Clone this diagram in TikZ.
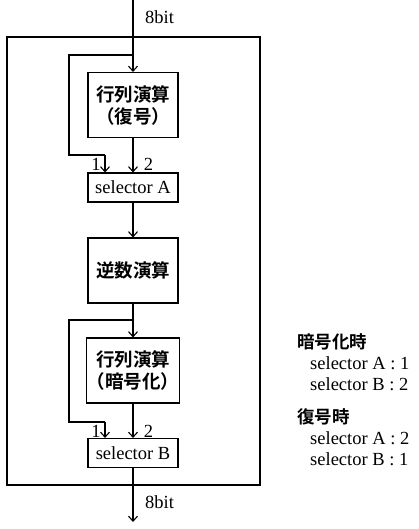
\documentclass[tikz,border=0pt]{standalone}
\usepackage{fontspec}
\setmainfont{Liberation Serif}
\newfontfamily\cjk{Noto Sans CJK JP}[BoldFont=* Bold]
\usetikzlibrary{arrows.meta}
\tikzset{
  blk/.style={draw, line width=1.1pt, minimum width=90pt, inner sep=0pt, align=center},
  bigblk/.style={blk, minimum height=65pt, font=\cjk\bfseries\fontsize{18.5}{22}\selectfont},
  selblk/.style={blk, minimum height=29pt, font=\fontsize{18.5}{20}\selectfont},
  wire/.style={line width=1.1pt},
  arr/.style={wire, -{Straight Barb[length=5pt,width=9pt,line width=1.1pt]}},
  lbl/.style={inner sep=0pt, font=\fontsize{18.5}{20}\selectfont},
  leghead/.style={inner sep=0pt, anchor=west, font=\cjk\bfseries\fontsize{17.5}{19}\selectfont},
  legtxt/.style={inner sep=0pt, anchor=west, font=\fontsize{18.5}{20}\selectfont}
}
\begin{document}
\begin{tikzpicture}[x=1pt,y=-1pt]
\useasboundingbox (0,0) rectangle (419,529);
% outer frame
\draw[line width=1.6pt] (7,37) rectangle (260,485);
% blocks
\node[bigblk] (m1) at (133,105) {行列演算\\（復号）};
\node[selblk] (sa) at (133,187.5) {selector A};
\node[bigblk] (inv) at (133,270.5) {逆数演算};
\node[bigblk] (m2) at (133,370.5) {行列演算\\（暗号化）};
\node[selblk] (sb) at (133,453) {selector B};
% coordinates
\coordinate (in) at (133,0);
\coordinate (j1) at (133,55);
\coordinate (l1a) at (69,55);
\coordinate (l1b) at (69,155);
\coordinate (l1c) at (105,155);
\coordinate (j2) at (133,320);
\coordinate (l2a) at (69,320);
\coordinate (l2b) at (69,422);
\coordinate (l2c) at (105,422);
\coordinate (out) at (133,522);
% connectors
\draw[arr] (in) -- (m1.north);
\draw[wire] (j1) -- (l1a) -- (l1b) -- (l1c);
\draw[arr] (l1c) -- (l1c |- sa.north);
\draw[arr] (m1.south) -- (sa.north);
\draw[arr] (sa.south) -- (inv.north);
\draw[arr] (inv.south) -- (m2.north);
\draw[wire] (j2) -- (l2a) -- (l2b) -- (l2c);
\draw[arr] (l2c) -- (l2c |- sb.north);
\draw[arr] (m2.south) -- (sb.north);
\draw[arr] (sb.south) -- (out);
% labels
\node[lbl, anchor=west] (t8a) at (145,17) {8bit};
\node[lbl, anchor=west] (t8b) at (145,502) {8bit};
\node[lbl] (a1) at (96,164) {1};
\node[lbl] (a2) at (148.5,164) {2};
\node[lbl] (b1) at (96,431) {1};
\node[lbl] (b2) at (148.5,431) {2};
% legend
\node[leghead] (h1) at (297,342) {暗号化時};
\node[legtxt] (h1a) at (310,363) {selector A : 1};
\node[legtxt] (h1b) at (310,384) {selector B : 2};
\node[leghead] (h2) at (297,417) {復号時};
\node[legtxt] (h2a) at (310,438) {selector A : 2};
\node[legtxt] (h2b) at (310,459) {selector B : 1};
\end{tikzpicture}
\end{document}
